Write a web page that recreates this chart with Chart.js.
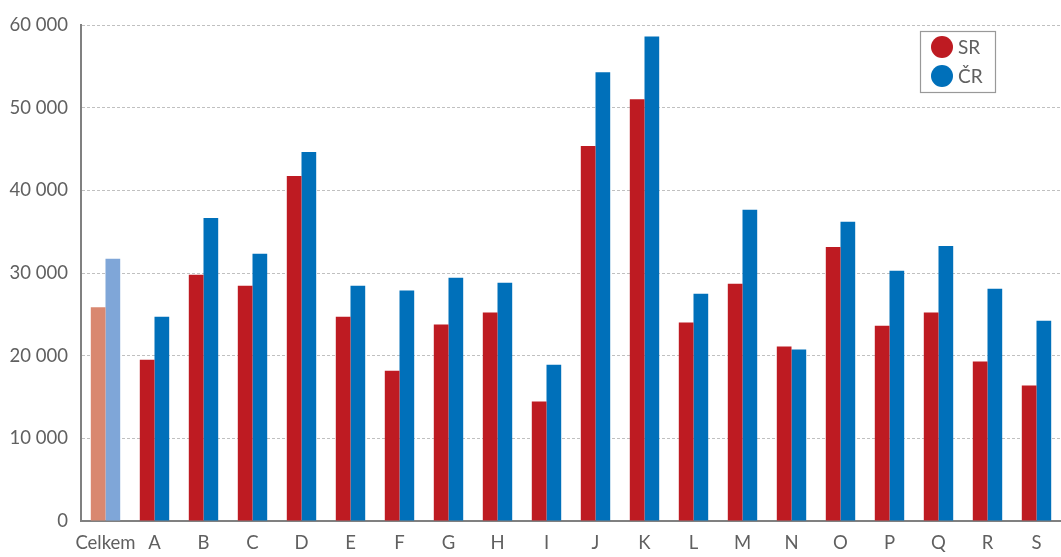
<!DOCTYPE html>
<html>
<head>
<meta charset="utf-8">
<script src="https://cdn.jsdelivr.net/npm/chart.js@4/dist/chart.umd.min.js"></script>
<style>
  html, body { margin: 0; padding: 0; background: #fff; }
  #wrap { width: 1061px; height: 557px; }
</style>
</head>
<body>
<div id="wrap"><canvas id="chart" width="1061" height="557"></canvas></div>
<script>
// data
const categories = ['Celkem', 'A', 'B', 'C', 'D', 'E', 'F', 'G', 'H', 'I', 'J', 'K', 'L', 'M', 'N', 'O', 'P', 'Q', 'R', 'S'];
const srValues = [25860, 19510, 29800, 28470, 41720, 24700, 18180, 23760, 25210, 14450, 45370, 51030, 24010, 28690, 21100, 33150, 23630, 25210, 19300, 16380];
const crValues = [31730, 24700, 36660, 32330, 44640, 28470, 27870, 29420, 28820, 18910, 54290, 58620, 27490, 37650, 20750, 36190, 30270, 33280, 28090, 24230];
const seriesNames = ['SR', 'ČR'];
const yTicks = [0, 10000, 20000, 30000, 40000, 50000, 60000];

// barvy
const srColor = '#BE1B22', srLight = '#D98870';
const crColor = '#0070BA', crLight = '#7FA6D8';
const textColor = '#606060';
const fontFamily = 'Lato, "Noto Sans", sans-serif';

// legenda s rámečkem
const boxLegend = {
  id: 'boxLegend',
  afterDraw(chart) {
    const { ctx } = chart;
    const x = 920, y = 31, w = 75, h = 61;
    ctx.save();
    ctx.strokeStyle = '#999';
    ctx.lineWidth = 1.2;
    ctx.strokeRect(x + 0.5, y + 0.5, w, h);
    const colors = [srColor, crColor];
    seriesNames.forEach((name, i) => {
      const cy = y + 16 + i * 29;
      ctx.fillStyle = colors[i];
      ctx.beginPath();
      ctx.arc(x + 22, cy, 11, 0, Math.PI * 2);
      ctx.fill();
      ctx.fillStyle = textColor;
      ctx.font = '19px ' + fontFamily;
      ctx.textAlign = 'left';
      ctx.textBaseline = 'middle';
      ctx.fillText(name, x + 38, cy + 1);
    });
    ctx.restore();
  }
};

new Chart(document.getElementById('chart'), {
  type: 'bar',
  data: {
    labels: categories,
    datasets: [
      { label: seriesNames[0], data: srValues, backgroundColor: srValues.map((v, i) => i === 0 ? srLight : srColor) },
      { label: seriesNames[1], data: crValues, backgroundColor: crValues.map((v, i) => i === 0 ? crLight : crColor) }
    ]
  },
  options: {
    responsive: false,
    animation: false,
    layout: { padding: { top: 25, right: -5, left: 0, bottom: 0 } },
    datasets: { bar: { barPercentage: 1, categoryPercentage: 0.6 } },
    plugins: { legend: { display: false }, tooltip: { enabled: false } },
    scales: {
      x: {
        afterFit: s => { s.height = 36; },
        grid: { display: false },
        border: { display: true, color: '#808080', width: 2 },
        ticks: { color: textColor, font: { family: fontFamily, size: 18.5 }, padding: 3, maxRotation: 0, autoSkip: false }
      },
      y: {
        min: 0, max: 60000,
        afterFit: s => { s.width = 81; },
        afterBuildTicks: s => { s.ticks = yTicks.map(v => ({ value: v })); },
        grid: { color: '#c0c0c0', lineWidth: 1, drawTicks: false },
        border: { display: true, color: '#808080', width: 2, dash: [3, 2] },
        ticks: {
          color: textColor, font: { family: fontFamily, size: 18.5 }, padding: 13,
          callback: v => v === 0 ? '0' : String(v).replace(/\B(?=(\d{3})+(?!\d))/g, ' ')
        }
      }
    }
  },
  plugins: [boxLegend]
});
</script>
</body>
</html>
